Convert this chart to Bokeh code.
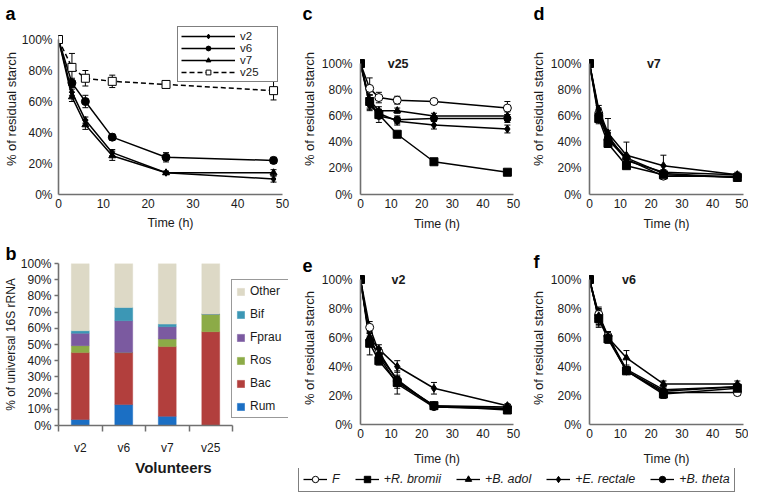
from bokeh.plotting import figure
from bokeh.models import (ColumnDataSource, Legend, LegendItem, Label, Title, Whisker, TeeHead,
                          Range1d, FixedTicker, PrintfTickFormatter)
from bokeh.layouts import row, column
from bokeh.embed import file_html
from bokeh.resources import INLINE

FONT = "Liberation Sans"
TXT = "#1a1a1a"
AXC = "#707070"

# ---------------- data ----------------
times = [0, 3, 6, 12, 24, 48]
x_ticks = [0, 10, 20, 30, 40, 50]
y_ticks_line = [0, 20, 40, 60, 80, 100]
y_ticks_bar = [0, 10, 20, 30, 40, 50, 60, 70, 80, 90, 100]

# panel a: residual starch per volunteer (%)
vol_series = ["v2", "v6", "v7", "v25"]
a_v2 = [100, 66, 48, 27, 14, 10]
a_v6 = [100, 72, 60, 37, 24, 22]
a_v7 = [100, 63, 45, 25, 14, 14]
a_v25 = [100, 82, 75, 73, 71, 67]
a_v2_err = [0, 2, 2, 2, 1, 2]
a_v6_err = [0, 3, 4, 2, 3, 2]
a_v7_err = [0, 3, 3, 3, 1, 2]
a_v25_err = [0, 9, 5, 4, 2, 6]

# panel b: % of universal 16S rRNA
volunteers = ["v2", "v6", "v7", "v25"]
taxa = ["Rum", "Bac", "Ros", "Fprau", "Bif", "Other"]
rum = [3.7, 12.9, 5.7, 0.0]
bac = [41.3, 32.1, 43.0, 57.9]
ros = [4.3, 0.0, 4.7, 10.9]
fprau = [7.7, 19.7, 7.6, 0.0]
bif = [1.5, 8.2, 1.6, 0.0]
other = [41.5, 27.1, 37.4, 31.2]
taxa_colors = ["#1b6fc4", "#b23f3d", "#8cab47", "#7b5aa0", "#3c97b5", "#ddd9c6"]

# panels c-f: treatments
treatments = ["F", "+R. bromii", "+B. adol", "+E. rectale", "+B. theta"]
# c: v25
c_F = [100, 81, 74, 72, 71, 66]
c_Rb = [100, 71, 61, 46, 25, 17]
c_Ba = [100, 72, 64, 64, 60, 60]
c_Er = [100, 68, 62, 56, 53, 50]
c_Bt = [100, 70, 60, 57, 58, 58]
c_F_err = [0, 8, 4, 3, 1, 5]
c_Rb_err = [0, 5, 3, 2, 1, 1]
c_Ba_err = [0, 4, 3, 2, 2, 3]
c_Er_err = [0, 3, 3, 3, 3, 3]
c_Bt_err = [0, 6, 5, 3, 2, 3]
# d: v7
d_F = [100, 62, 42, 27, 14, 14]
d_Rb = [100, 58, 39, 22, 15, 13]
d_Ba = [100, 63, 45, 26, 17, 15]
d_Er = [100, 65, 47, 30, 22, 15]
d_Bt = [100, 60, 43, 28, 16, 13]
d_F_err = [0, 3, 3, 2, 1, 1]
d_Rb_err = [0, 4, 3, 2, 1, 1]
d_Ba_err = [0, 3, 4, 3, 2, 1]
d_Er_err = [0, 3, 11, 10, 8, 2]
d_Bt_err = [0, 3, 3, 2, 2, 1]
# e: v2
e_F = [100, 67, 50, 30, 13, 12]
e_Rb = [100, 56, 44, 29, 13, 10]
e_Ba = [100, 60, 47, 28, 12, 11]
e_Er = [100, 60, 52, 40, 25, 13]
e_Bt = [100, 58, 48, 31, 12, 11]
e_F_err = [0, 4, 3, 3, 2, 1]
e_Rb_err = [0, 8, 3, 8, 1, 1]
e_Ba_err = [0, 3, 3, 3, 1, 1]
e_Er_err = [0, 3, 3, 4, 4, 1]
e_Bt_err = [0, 3, 2, 3, 1, 1]
# f: v6
f_F = [100, 76, 61, 37, 22, 22]
f_Rb = [100, 73, 59, 37, 21, 25]
f_Ba = [100, 75, 60, 46, 28, 28]
f_Er = [100, 74, 61, 38, 24, 26]
f_Bt = [100, 73, 60, 37, 23, 26]
f_F_err = [0, 5, 3, 2, 2, 2]
f_Rb_err = [0, 6, 3, 2, 3, 2]
f_Ba_err = [0, 5, 3, 5, 2, 2]
f_Er_err = [0, 5, 3, 2, 2, 2]
f_Bt_err = [0, 5, 3, 2, 2, 2]

# ---------------- styles ----------------
vol_styles = {
    "v2": dict(marker="diamond", size=7, fill="black", dash="solid"),
    "v6": dict(marker="circle", size=8, fill="black", dash="solid"),
    "v7": dict(marker="triangle", size=7, fill="black", dash="solid"),
    "v25": dict(marker="square", size=8, fill="white", dash="5 3"),
}
tr_styles = {
    "F": dict(marker="circle", size=8, fill="white", dash="solid"),
    "+R. bromii": dict(marker="square", size=8, fill="black", dash="solid"),
    "+B. adol": dict(marker="triangle", size=7, fill="black", dash="solid"),
    "+E. rectale": dict(marker="diamond", size=8, fill="black", dash="solid"),
    "+B. theta": dict(marker="circle", size=7, fill="black", dash="solid"),
}


def base_fig(bl, fw, br, bt, fh, bb, **kw):
    p = figure(frame_width=fw, frame_height=fh, min_border_left=bl, min_border_right=br,
               min_border_top=bt, min_border_bottom=bb, output_backend="svg",
               toolbar_location=None, **kw)
    p.xgrid.visible = False
    p.ygrid.visible = False
    p.outline_line_color = None
    p.background_fill_color = "white"
    p.border_fill_color = "white"
    return p


def style_axis(ax, label, label_size="13px", label_style="normal", lab_standoff=4, ax_standoff=1):
    ax.axis_label = label
    ax.axis_line_color = AXC
    ax.axis_line_width = 1.6
    ax.major_tick_in = 0
    ax.major_tick_out = 0
    ax.minor_tick_in = 0
    ax.minor_tick_out = 0
    ax.major_tick_line_color = AXC
    ax.minor_tick_line_color = AXC
    ax.major_tick_line_width = 1.5
    ax.minor_tick_line_width = 1.5
    ax.major_label_text_font = FONT
    ax.major_label_text_font_size = "12px"
    ax.major_label_text_color = TXT
    ax.major_label_standoff = lab_standoff
    ax.axis_label_text_font = FONT
    ax.axis_label_text_font_size = label_size
    ax.axis_label_text_font_style = label_style
    ax.axis_label_text_color = TXT
    ax.axis_label_standoff = ax_standoff


def add_letter(p, text, offset):
    p.add_layout(Title(text=text, align="left", offset=offset, standoff=0,
                       text_font=FONT, text_font_size="18px", text_font_style="bold",
                       text_color="black"), "above")


def line_panel(bl, fw, br, bt, fh, bb, top_px, names, data, errors, styles,
               lab_standoff=8, ylab_standoff=2, xlab_standoff=4):
    # frame spans fh pixels; 0..100 % occupies the lowest fh - top_px of them
    y_end = 100.0 * fh / (fh - top_px)
    p = base_fig(bl, fw, br, bt, fh, bb, x_range=Range1d(0, 50), y_range=Range1d(0, y_end))
    p.xaxis.ticker = FixedTicker(ticks=x_ticks)
    p.yaxis.ticker = FixedTicker(ticks=y_ticks_line)
    p.yaxis.bounds = (0, 100)
    p.yaxis.formatter = PrintfTickFormatter(format="%d%%")
    style_axis(p.xaxis[0], "Time (h)", "12.5px", lab_standoff=4, ax_standoff=xlab_standoff)
    style_axis(p.yaxis[0], "% of residual starch", "13px", lab_standoff=lab_standoff,
               ax_standoff=ylab_standoff)
    items = []
    for name, vals, err in zip(names, data, errors):
        st = styles[name]
        src = ColumnDataSource(dict(t=times, y=vals))
        lr = p.line("t", "y", source=src, line_color="black", line_width=1.5,
                    line_dash=st["dash"])
        lo = [v - e for v, e in zip(vals[1:], err[1:])]
        up = [v + e for v, e in zip(vals[1:], err[1:])]
        wsrc = ColumnDataSource(dict(t=times[1:], lo=lo, up=up))
        p.add_layout(Whisker(base="t", lower="lo", upper="up", source=wsrc,
                             line_color="black", line_width=1,
                             upper_head=TeeHead(size=6, line_color="black", line_width=1),
                             lower_head=TeeHead(size=6, line_color="black", line_width=1)))
        items.append((name, lr, src, st))
    legend_items = []
    for name, lr, src, st in items:
        sr = p.scatter("t", "y", source=src, marker=st["marker"], size=st["size"],
                       fill_color=st["fill"], line_color="black", line_width=1)
        legend_items.append(LegendItem(label=name, renderers=[lr, sr]))
    return p, legend_items


def add_subtitle(p, text, x):
    p.add_layout(Label(x=x, y=100, text=text, text_font=FONT, text_font_size="12.5px",
                       text_font_style="bold", text_align="center", text_baseline="middle",
                       text_color=TXT))


# ---------------- panel a ----------------
pa, a_items = line_panel(53, 224, 15, 23, 171, 46, 16, vol_series,
                         [a_v2, a_v6, a_v7, a_v25],
                         [a_v2_err, a_v6_err, a_v7_err, a_v25_err],
                         vol_styles, lab_standoff=6, ylab_standoff=0, xlab_standoff=5)
leg_a = Legend(items=a_items, location=(119, 112), orientation="vertical",
               glyph_width=54, glyph_height=12, label_width=34, label_height=12,
               label_standoff=5, padding=3, spacing=0, margin=0,
               label_text_font=FONT, label_text_font_size="11.5px", label_text_color=TXT,
               border_line_color="black", border_line_width=1, background_fill_alpha=1)
pa.add_layout(leg_a, "center")
add_letter(pa, "a", -53)

# ---------------- panel b ----------------
# 4 category slots take 174 px; the frame is widened so the legend sits inside it
b_px_per_slot = 174 / len(volunteers)
b_fw = 230
pb = base_fig(53, b_fw, 9, 23, 162, 65, x_range=Range1d(0, b_fw / b_px_per_slot),
              y_range=Range1d(0, 100))
xs = [i + 0.5 for i in range(len(volunteers))]
bsrc = ColumnDataSource(dict(x=xs, Rum=rum, Bac=bac, Ros=ros, Fprau=fprau, Bif=bif, Other=other))
brs = pb.vbar_stack(taxa, x="x", width=0.41, source=bsrc, fill_color=taxa_colors,
                    line_color=taxa_colors, line_width=0.5)
pb.xaxis.ticker = FixedTicker(ticks=xs, minor_ticks=list(range(len(volunteers) + 1)))
pb.xaxis.major_label_overrides = {x: v for x, v in zip(xs, volunteers)}
pb.xaxis.bounds = (0, len(volunteers))
pb.yaxis.ticker = FixedTicker(ticks=y_ticks_bar)
pb.yaxis.formatter = PrintfTickFormatter(format="%d%%")
style_axis(pb.xaxis[0], "Volunteers", "15px", "bold", lab_standoff=9, ax_standoff=1)
style_axis(pb.yaxis[0], "% of universal 16S rRNA", "12px", lab_standoff=3, ax_standoff=0)
pb.xaxis.minor_tick_out = 6
pb.yaxis.major_tick_out = 4
leg_b = Legend(items=[LegendItem(label=t, renderers=[r]) for t, r in zip(taxa[::-1], brs[::-1])],
               location=(173, 7), orientation="vertical",
               glyph_width=9, glyph_height=9, label_width=35, label_height=14,
               label_standoff=5, padding=4, spacing=9, margin=0,
               label_text_font=FONT, label_text_font_size="12px", label_text_color=TXT,
               border_line_color="#333333", border_line_width=1)
pb.add_layout(leg_b, "center")
add_letter(pb, "b", -53)

# ---------------- panels c-f ----------------
pc, _ = line_panel(63, 153, 14, 23, 171, 42, 40, treatments,
                   [c_F, c_Rb, c_Ba, c_Er, c_Bt],
                   [c_F_err, c_Rb_err, c_Ba_err, c_Er_err, c_Bt_err], tr_styles,
                   xlab_standoff=6)
add_subtitle(pc, "v25", 12.3)
add_letter(pc, "c", -58)

pd_, _ = line_panel(61, 154, 5, 23, 171, 42, 40, treatments,
                    [d_F, d_Rb, d_Ba, d_Er, d_Bt],
                    [d_F_err, d_Rb_err, d_Ba_err, d_Er_err, d_Bt_err], tr_styles,
                    xlab_standoff=6)
add_subtitle(pd_, "v7", 20.9)
add_letter(pd_, "d", -56)

pe, _ = line_panel(63, 153, 14, 35, 153, 42, 8, treatments,
                   [e_F, e_Rb, e_Ba, e_Er, e_Bt],
                   [e_F_err, e_Rb_err, e_Ba_err, e_Er_err, e_Bt_err], tr_styles,
                   xlab_standoff=11)
add_subtitle(pe, "v2", 12.4)
add_letter(pe, "e", -58)

pf, _ = line_panel(61, 154, 5, 35, 153, 42, 8, treatments,
                   [f_F, f_Rb, f_Ba, f_Er, f_Bt],
                   [f_F_err, f_Rb_err, f_Ba_err, f_Er_err, f_Bt_err], tr_styles,
                   xlab_standoff=11)
add_subtitle(pf, "v6", 12.8)
add_letter(pf, "f", -56)

# ---------------- bottom legend ----------------
# proxy renderers: real series, but the view ranges keep them out of sight
pl = figure(width=450, height=24, min_border=0, x_axis_type=None, y_axis_type=None,
            x_range=Range1d(-20, -10), y_range=Range1d(-20, -10), output_backend="svg",
            toolbar_location=None)
pl.grid.visible = False
pl.outline_line_color = None
leg_items = []
for name, vals in zip(treatments, [c_F, c_Rb, c_Ba, c_Er, c_Bt]):
    st = tr_styles[name]
    lsrc = ColumnDataSource(dict(t=times, y=vals))
    lr = pl.line("t", "y", source=lsrc, line_color="black", line_width=1.3)
    sr = pl.scatter("t", "y", source=lsrc, marker=st["marker"], size=st["size"],
                    fill_color=st["fill"], line_color="black", line_width=1)
    leg_items.append(LegendItem(label=name, renderers=[lr, sr]))
leg_bottom = Legend(items=leg_items, location=(1, 0), orientation="horizontal",
                    glyph_width=24, glyph_height=16, label_height=16, label_width=6,
                    label_standoff=5, padding=4, spacing=15, margin=0,
                    label_text_font=FONT, label_text_font_size="12.5px",
                    label_text_font_style="italic", label_text_color=TXT,
                    border_line_color="black", border_line_width=1)
pl.add_layout(leg_bottom, "center")

layout = row(column(pa, pb), column(row(pc, pd_), row(pe, pf), pl))

open("out.html", "w").write(file_html(layout, INLINE))
